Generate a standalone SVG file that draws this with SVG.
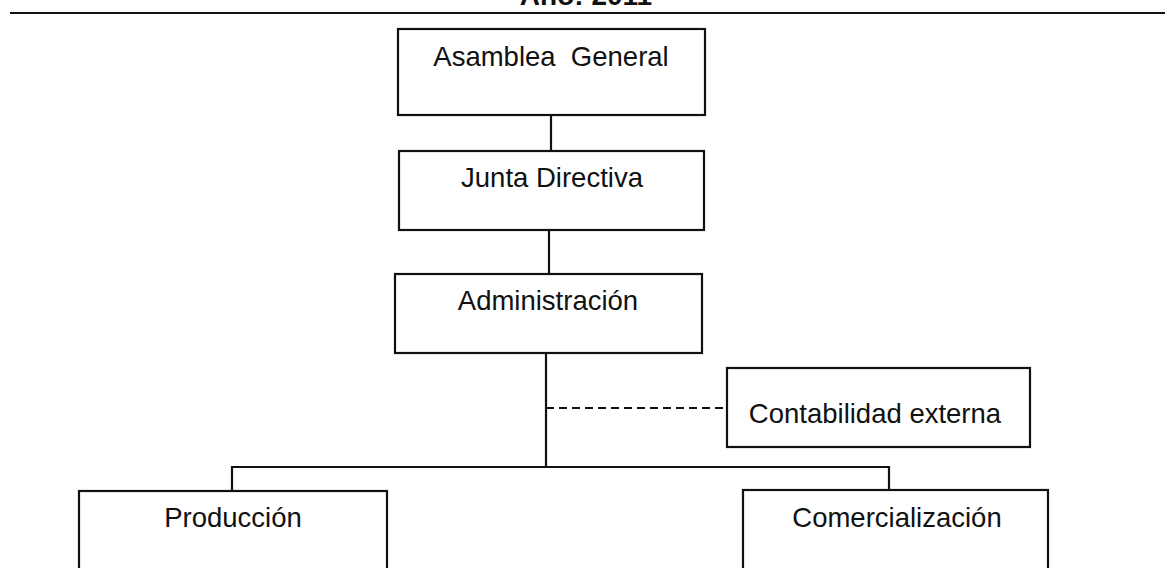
<svg xmlns="http://www.w3.org/2000/svg" width="1168" height="568" viewBox="0 0 1168 568">
<style>
.box{fill:#fff;stroke:#111;stroke-width:2.2}
.lbl{font-family:"Liberation Sans",Arial,sans-serif;font-size:27.5px;fill:#111;text-anchor:middle;white-space:pre}
.ln{stroke:#111;stroke-width:2.2;fill:none}
.dash{stroke:#111;stroke-width:1.8;fill:none;stroke-dasharray:8 5}
</style>
<rect width="1168" height="568" fill="#fff"/>
<text x="586" y="5" class="lbl" style="font-weight:bold;font-size:28px">Año: 2011</text>
<line x1="10" y1="13" x2="1165" y2="13" class="ln" stroke-width="2"/>
<g id="connectors">
<line x1="551" y1="115" x2="551" y2="151" class="ln"/>
<line x1="549" y1="230" x2="549" y2="274" class="ln"/>
<line x1="546" y1="353" x2="546" y2="467" class="ln"/>
<line x1="546" y1="408" x2="727" y2="408" class="dash"/>
<polyline points="232,490 232,467 889,467 889,490" class="ln"/>
</g>
<g id="asamblea">
<rect x="398" y="29" width="307" height="86" class="box"/>
<text x="551" y="66" class="lbl" xml:space="preserve">Asamblea  General</text>
</g>
<g id="junta">
<rect x="399" y="151" width="305" height="79" class="box"/>
<text x="552" y="187" class="lbl">Junta Directiva</text>
</g>
<g id="administracion">
<rect x="395" y="274" width="307" height="79" class="box"/>
<text x="548" y="310" class="lbl">Administración</text>
</g>
<g id="contabilidad">
<rect x="727" y="368" width="303" height="79" class="box"/>
<text x="875" y="423" class="lbl">Contabilidad externa</text>
</g>
<g id="produccion">
<rect x="79" y="491" width="308" height="100" class="box"/>
<text x="233" y="527" class="lbl">Producción</text>
</g>
<g id="comercializacion">
<rect x="743" y="490" width="305" height="100" class="box"/>
<text x="897" y="527" class="lbl">Comercialización</text>
</g>
</svg>
